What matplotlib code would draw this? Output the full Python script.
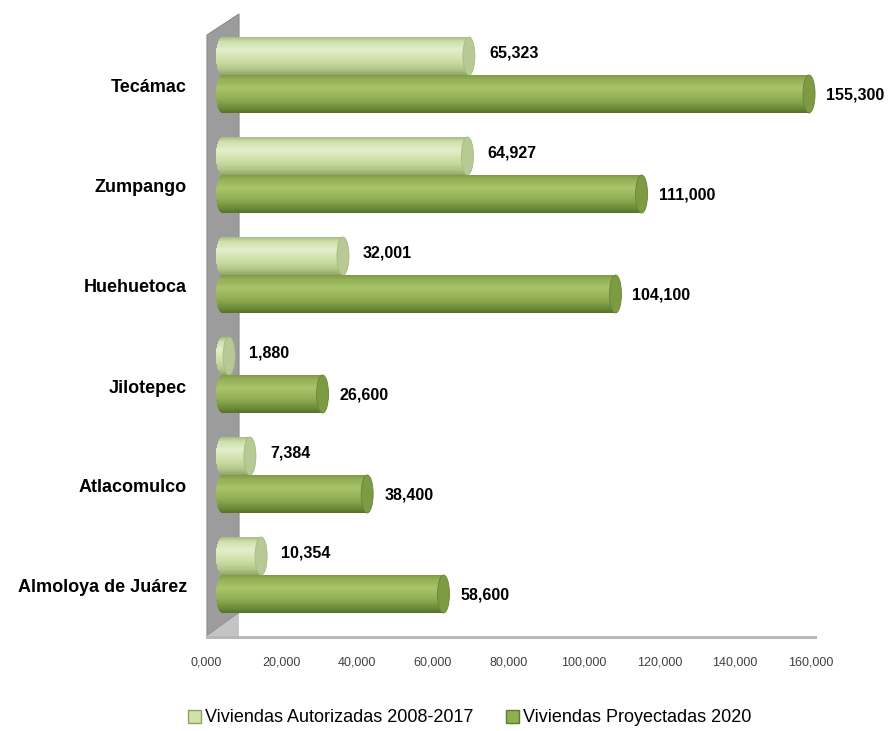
import matplotlib
matplotlib.use("Agg")
import matplotlib.pyplot as plt
import numpy as np
from matplotlib.patches import Polygon, Ellipse, Rectangle, Patch
from matplotlib.lines import Line2D
from matplotlib.transforms import ScaledTranslation

# ---------------- data ----------------
categories = ["Tecámac", "Zumpango", "Huehuetoca", "Jilotepec", "Atlacomulco", "Almoloya de Juárez"]
autorizadas = [65323, 64927, 32001, 1880, 7384, 10354]
proyectadas = [155300, 111000, 104100, 26600, 38400, 58600]
series_names = ["Viviendas Autorizadas 2008-2017", "Viviendas Proyectadas 2020"]
xticks = [0, 20000, 40000, 60000, 80000, 100000, 120000, 140000, 160000]
xticklabels = ["0,000", "20,000", "40,000", "60,000", "80,000", "100,000", "120,000", "140,000", "160,000"]

base = "Liberation Sans"

W, H, DPI = 891, 731, 100
fig = plt.figure(figsize=(W / DPI, H / DPI), dpi=DPI)
fig.patch.set_facecolor("white")

# axes geometry in pixels
ax_left_px, ax_right_px = 222, 860
ax_top_px, ax_bot_px = 14, 636
scale = 0.00378  # px per unit
xmax = (ax_right_px - ax_left_px) / scale
ax = fig.add_axes([ax_left_px / W, (H - ax_bot_px) / H,
                   (ax_right_px - ax_left_px) / W, (ax_bot_px - ax_top_px) / H])
ax.set_xlim(0, xmax)
y0_px = 75.0
ax.set_ylim((ax_bot_px - y0_px) / 100.0, (ax_top_px - y0_px) / 100.0)
for s in ax.spines.values():
    s.set_visible(False)
ax.set_yticks([])
ax.set_facecolor("none")

def px2x(px):
    return (px - ax_left_px) / scale

def py2y(py):
    return (py - y0_px) / 100.0

# back wall (3D)
wall = Polygon([(px2x(207), py2y(35)), (px2x(239), py2y(14)), (px2x(239), py2y(613)), (px2x(207), py2y(636))],
               closed=True, facecolor="#9c9c9c", edgecolor="#8a8a8a", lw=0.8, clip_on=False, zorder=1)
ax.add_patch(wall)
floor_tri = Polygon([(px2x(207), py2y(636)), (px2x(239), py2y(613)), (px2x(239), py2y(636))],
                    closed=True, facecolor="#c4c4c4", edgecolor="none", clip_on=False, zorder=1)
ax.add_patch(floor_tri)
ax.add_line(Line2D([px2x(207), px2x(815)], [py2y(636.5), py2y(636.5)], color="#b8b8b8", lw=2.2,
                   clip_on=False, zorder=1))

def lerp_colors(stops, t):
    ts = [s[0] for s in stops]
    cs = [np.array(matplotlib.colors.to_rgb(s[1])) for s in stops]
    for i in range(len(ts) - 1):
        if ts[i] <= t <= ts[i + 1]:
            f = (t - ts[i]) / (ts[i + 1] - ts[i])
            return tuple(cs[i] * (1 - f) + cs[i + 1] * f)
    return tuple(cs[-1])

light_stops = [(0, "#a9bb84"), (0.12, "#cfe0ab"), (0.35, "#e2eecb"), (0.6, "#cddfa6"), (0.85, "#b3c78a"), (1, "#8fa462")]
dark_stops = [(0, "#7f9a46"), (0.12, "#95b257"), (0.35, "#a8c46b"), (0.6, "#93b055"), (0.85, "#71903a"), (1, "#55702a")]
light_cap = "#b7c994"
dark_cap = "#7d9b43"

cap_a = px2x(ax_left_px + 6)  # semi-axis in data units
bar_h = 0.38
nstrip = 40

def draw_bar(yc, val, stops, capc, z):
    top = yc - bar_h / 2
    for j in range(nstrip):
        t = (j + 0.5) / nstrip
        u = 2 * t - 1
        xs = -cap_a * np.sqrt(max(0.0, 1 - u * u))
        col = lerp_colors(stops, t)
        ax.add_patch(Rectangle((xs, top + j * bar_h / nstrip), val - xs, bar_h / nstrip + 0.002,
                               facecolor=col, edgecolor="none", zorder=z, clip_on=False))
    ax.add_patch(Ellipse((val, yc), 2 * cap_a, bar_h, facecolor=capc, edgecolor=lerp_colors(stops, 0.9),
                         lw=0.6, zorder=z + 0.5, clip_on=False))

for i, cat in enumerate(categories):
    yl = i - bar_h / 2
    yd = i + bar_h / 2
    draw_bar(yd, proyectadas[i], dark_stops, dark_cap, 3)
    draw_bar(yl, autorizadas[i], light_stops, light_cap, 5)
    ax.annotate(f"{autorizadas[i]:,}", xy=(autorizadas[i], yl), xytext=(20, 3), textcoords="offset pixels",
                ha="left", va="center", fontsize=11.5, fontweight="bold", family=base, color="black")
    ax.annotate(f"{proyectadas[i]:,}", xy=(proyectadas[i], yd), xytext=(17, -1), textcoords="offset pixels",
                ha="left", va="center", fontsize=11.5, fontweight="bold", family=base, color="black")
    fig.text(187 / W, 1 - (y0_px + 100 * i + 13) / H, cat, ha="right", va="center",
             fontsize=13, fontweight="bold", family=base, color="black")

ax.set_xticks(xticks)
ax.set_xticklabels(xticklabels, fontsize=9, family=base, color="#404040")
ax.tick_params(axis="x", length=0, pad=15)
off = ScaledTranslation(-16 / DPI, 0, fig.dpi_scale_trans)
for lab in ax.get_xticklabels():
    lab.set_transform(lab.get_transform() + off)

handles = [Patch(facecolor="#cfe0ab", edgecolor="#8fa462", lw=1.0),
           Patch(facecolor="#8fb050", edgecolor="#5f7c30", lw=1.0)]
leg = fig.legend(handles, series_names, loc="center", bbox_to_anchor=(470 / W, 1 - 718 / H), ncol=2,
                 frameon=False, handlelength=0.7, handleheight=0.7, handletextpad=0.25, columnspacing=1.8,
                 prop={"family": base, "size": 13})

fig.savefig("out.png", dpi=DPI, facecolor="white")
